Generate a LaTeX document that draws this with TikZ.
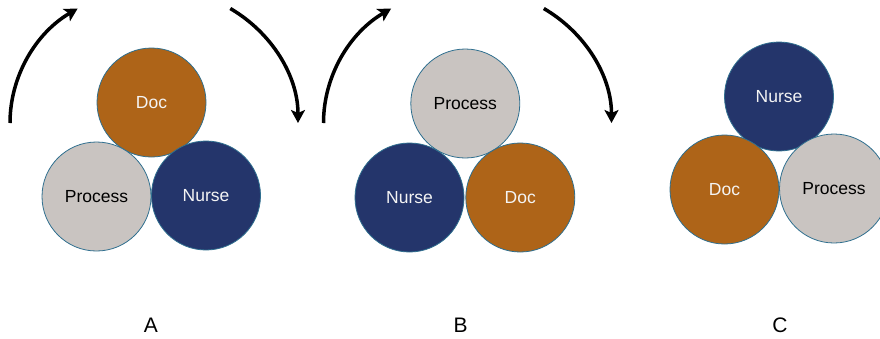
\documentclass[tikz,border=0pt]{standalone}
\usepackage{fontspec}
\setmainfont{Liberation Sans}
\usetikzlibrary{arrows.meta}
\definecolor{docorange}{HTML}{AE6418}
\definecolor{nursenavy}{HTML}{24356B}
\definecolor{processgrey}{HTML}{C9C4C1}
\definecolor{rimblue}{HTML}{2F6F8F}
\definecolor{softwhite}{HTML}{F4F4F4}
\tikzset{
  disc/.style={circle, minimum size=109pt, inner sep=0pt, draw=rimblue, line width=0.8pt,
    font=\fontsize{17.5}{20}\selectfont},
  docdisc/.style={disc, fill=docorange, text=softwhite},
  nursedisc/.style={disc, fill=nursenavy, text=softwhite},
  processdisc/.style={disc, fill=processgrey, text=black},
  turn/.style={line width=3.5pt, black, -{Stealth[length=13pt, width=14pt, inset=3pt]}},
  caption/.style={font=\fontsize{21}{24}\selectfont, inner sep=0pt}
}
\begin{document}
\begin{tikzpicture}[x=1pt, y=-1pt]
  \useasboundingbox (0,0) rectangle (880,338);
  \begin{scope}
    \clip (0,0) rectangle (880,338);

    % Arrangement A
    \coordinate (aL) at (10,123);
    \coordinate (aR) at (230.3,8.5);
    \draw[turn] (aL) arc[start angle=180, end angle=238, x radius=144, y radius=135];
    \draw[turn] (aR) arc[start angle=302, end angle=360, x radius=144, y radius=135];
    \node[docdisc]     (aDoc)     at (151.5,102.5) {Doc};
    \node[processdisc] (aProcess) at (96.5,196.5)  {Process};
    \node[nursedisc]   (aNurse)   at (206,195.5)   {Nurse};
    \node[caption]     (aCap)     at (151,325)     {A};

    % Arrangement B
    \coordinate (bL) at (323.5,123);
    \coordinate (bR) at (543.8,8.5);
    \draw[turn] (bL) arc[start angle=180, end angle=238, x radius=144, y radius=135];
    \draw[turn] (bR) arc[start angle=302, end angle=360, x radius=144, y radius=135];
    \node[processdisc] (bProcess) at (465.3,103.5) {Process};
    \node[nursedisc]   (bNurse)   at (409.5,197.5) {Nurse};
    \node[docdisc]     (bDoc)     at (520.3,197.5) {Doc};
    \node[caption]     (bCap)     at (460.5,325)   {B};

    % Arrangement C
    \node[nursedisc]   (cNurse)   at (779,96.5)    {Nurse};
    \node[docdisc]     (cDoc)     at (724.5,189.5) {Doc};
    \node[processdisc] (cProcess) at (834,188.5)   {Process};
    \node[caption]     (cCap)     at (780,325)     {C};
  \end{scope}
\end{tikzpicture}
\end{document}
